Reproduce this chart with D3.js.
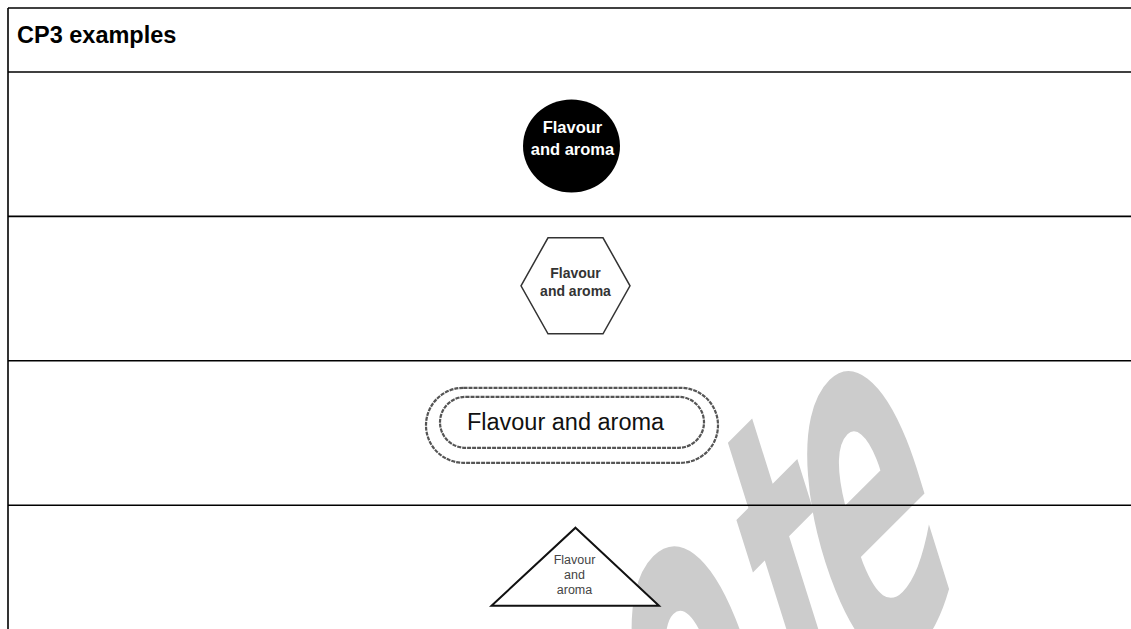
<!DOCTYPE html>
<html>
<head>
<meta charset="utf-8">
<script src="https://cdn.jsdelivr.net/npm/d3@7/dist/d3.min.js"></script>
<style>
  html, body { margin: 0; padding: 0; background: #fff; }
  svg { display: block; }
</style>
</head>
<body>
<script>
// ---- data ----
const title = "CP3 examples";
const shapes = ["circle", "hexagon", "pill", "triangle"];
const labels = [
  ["Flavour", "and aroma"],
  ["Flavour", "and aroma"],
  ["Flavour and aroma"],
  ["Flavour", "and", "aroma"]
];
const watermark = "Quote";

// ---- layout ----
const W = 1131, H = 629;
const tLeft = 8, tTop = 8, headerH = 64, rowH = 144.4;
const tableRight = 1140;

const svg = d3.select("body").append("svg")
  .attr("width", W).attr("height", H)
  .style("font-family", "'Liberation Sans', Arial, sans-serif");

const y = d3.scaleBand()
  .domain(shapes)
  .range([tTop + headerH, tTop + headerH + rowH * shapes.length])
  .paddingInner(0).paddingOuter(0);
const cx = (tLeft + tableRight) / 2;

// watermark (behind everything): script-like letters approximated
const wmText = svg.append("g")
  .attr("transform", "translate(404,1154) rotate(-45) skewX(-23) scale(0.5,1)")
  .append("text")
  .attr("x", 0).attr("y", 0)
  .style("font-family", "'DejaVu Sans', sans-serif")
  .style("font-weight", "bold")
  .style("font-style", "oblique")
  .attr("fill", "#cccccc");
const wmKern = { 2: 130, 3: 40, 4: -34 };
wmText.selectAll("tspan").data(watermark.split("")).join("tspan")
  .attr("dx", (d, i) => wmKern[i] || 0)
  .style("font-size", d => d === "t" ? "390px" : "440px")
  .text(d => d);

// table lines
const lineYs = [tTop, tTop + headerH].concat(shapes.map(s => y(s) + y.bandwidth()).slice(0, -1));
svg.append("g").selectAll("line").data(lineYs).join("line")
  .attr("x1", tLeft).attr("x2", W)
  .attr("y1", d => d).attr("y2", d => d)
  .attr("stroke", "#000").attr("stroke-width", 1.6);
svg.append("line")
  .attr("x1", tLeft).attr("x2", tLeft).attr("y1", tTop).attr("y2", H)
  .attr("stroke", "#000").attr("stroke-width", 1.6);

// header
svg.append("text")
  .attr("x", tLeft + 9).attr("y", tTop + 35)
  .style("font-weight", "bold").style("font-size", "23.5px")
  .attr("fill", "#000")
  .text(title);

// shapes
shapes.forEach((s, i) => {
  const cy = y(s) + y.bandwidth() / 2;
  const g = svg.append("g");
  const lines = labels[i];
  if (s === "circle") {
    const x0 = cx - 2.5, y0 = cy + 1.8;
    g.append("ellipse").attr("cx", x0).attr("cy", y0).attr("rx", 48.5).attr("ry", 46.5).attr("fill", "#000");
    g.selectAll("text").data(lines).join("text")
      .attr("x", x0 + 1).attr("y", (d, j) => y0 - 13 + j * 22)
      .attr("text-anchor", "middle")
      .style("font-weight", "bold").style("font-size", "16.5px")
      .attr("fill", "#fff").text(d => d);
  } else if (s === "hexagon") {
    const x0 = cx + 1.5, y0 = cy - 2.8, hw = 54.5, hh = 48, tw = 27.5;
    const pts = [[-hw, 0], [-tw, -hh], [tw, -hh], [hw, 0], [tw, hh], [-tw, hh]].map(p => [x0 + p[0], y0 + p[1]]);
    g.append("path").attr("d", d3.line()(pts) + "Z")
      .attr("fill", "#fff").attr("stroke", "#333").attr("stroke-width", 1.5);
    g.selectAll("text").data(lines).join("text")
      .attr("x", x0).attr("y", (d, j) => y0 - 8 + j * 18)
      .attr("text-anchor", "middle")
      .style("font-weight", "bold").style("font-size", "14px")
      .attr("fill", "#333").text(d => d);
  } else if (s === "pill") {
    const x0 = cx - 2, y0 = cy - 7.7;
    g.append("rect").attr("x", x0 - 146).attr("y", y0 - 37.5).attr("width", 292).attr("height", 75)
      .attr("rx", 37.5).attr("ry", 37.5)
      .attr("fill", "#fff").attr("stroke", "#555").attr("stroke-width", 2.2).attr("stroke-dasharray", "4,1");
    g.append("rect").attr("x", x0 - 132).attr("y", y0 - 28.5).attr("width", 264).attr("height", 51)
      .attr("rx", 25.5).attr("ry", 25.5)
      .attr("fill", "#fff").attr("stroke", "#555").attr("stroke-width", 2.2).attr("stroke-dasharray", "4,1");
    g.selectAll("text").data(lines).join("text")
      .attr("x", x0 - 6.5).attr("y", y0 + 4.5)
      .attr("text-anchor", "middle")
      .style("font-size", "23.5px")
      .attr("fill", "#111").text(d => d);
  } else if (s === "triangle") {
    const x0 = cx + 1.5, y0 = cy - 10.7;
    const pts = [[x0, y0 - 39], [x0 + 83.5, y0 + 39], [x0 - 84, y0 + 39]];
    g.append("path").attr("d", d3.line()(pts) + "Z")
      .attr("fill", "#fff").attr("stroke", "#111").attr("stroke-width", 2);
    g.selectAll("text").data(lines).join("text")
      .attr("x", x0 - 1).attr("y", (d, j) => y0 - 3 + j * 15)
      .attr("text-anchor", "middle")
      .style("font-size", "12.5px")
      .attr("fill", "#444").text(d => d);
  }
});
</script>
</body>
</html>
